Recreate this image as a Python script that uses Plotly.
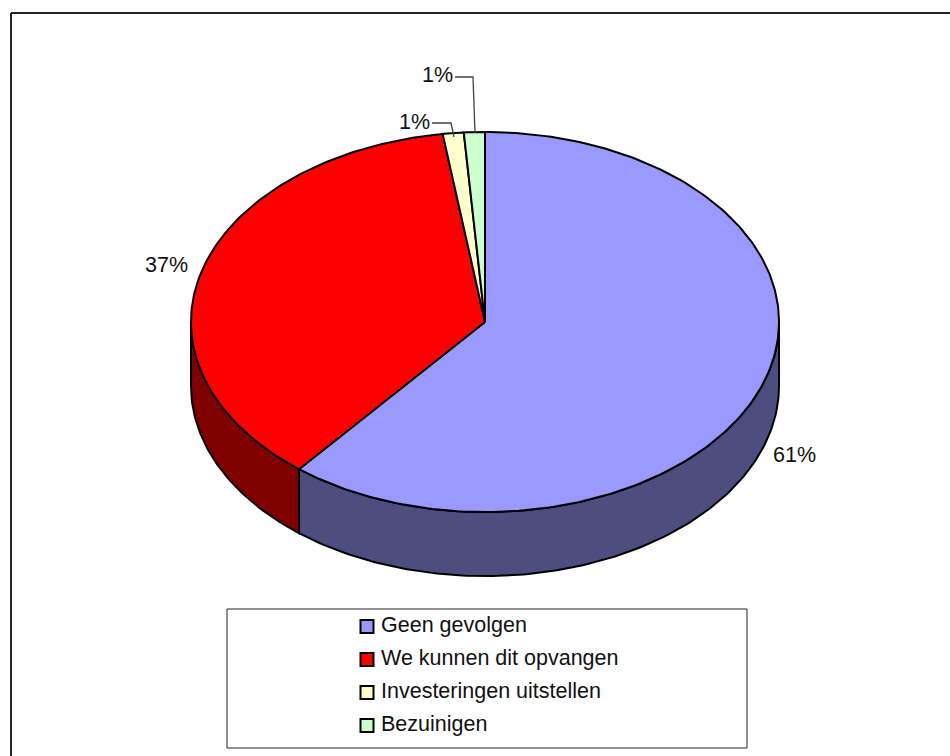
import math
import plotly.graph_objects as go

# Data
categories = ["Geen gevolgen", "We kunnen dit opvangen", "Investeringen uitstellen", "Bezuinigen"]
values = [60.9, 36.8, 1.15, 1.15]
top_colors = ["#9999FF", "#FF0000", "#FFFFCC", "#CCFFCC"]
side_colors = ["#4D4D80", "#800000", "#808066", "#668066"]

# Layout (pixels)
W, H = 950, 756
CX, CY, RX, RY, DEPTH = 485, 322, 294, 190, 64
FONT = "Liberation Sans, Arial, sans-serif"
FS = 21.5
LEG_X0, LEG_X1, LEG_Y0, LEG_Y1 = 227, 747, 609, 748
LEG_ROW0, LEG_ROW_STEP = 624.5, 33
SWATCH_X, TEXT_X = 367, 381
# label anchor positions for each slice, and optional leader paths
label_pos = [(794, 455), (166, 265), (414, 122), (437, 75)]
leaders = [None, None, [(432, 123), (451, 123), (454, 137)], [(455, 77), (473, 77), (475, 133)]]


def arc(a0, a1, dy=0.0):
    """Points on the ellipse for fractions of the turn, clockwise from the top."""
    n = max(2, int(abs(a1 - a0) * 360) + 2)
    xs, ys = [], []
    for i in range(n):
        t = 2 * math.pi * (a0 + (a1 - a0) * i / (n - 1))
        xs.append(CX + RX * math.sin(t))
        ys.append(CY - RY * math.cos(t) + dy)
    return xs, ys


total = sum(values)
bounds = [0.0]
for v in values:
    bounds.append(bounds[-1] + v / total)

fig = go.Figure()

# Side walls: only the front half (a quarter to three quarters of the turn) shows
for i, c in enumerate(categories):
    a0, a1 = max(bounds[i], 0.25), min(bounds[i + 1], 0.75)
    if a1 <= a0:
        continue
    xt, yt = arc(a0, a1)
    xb, yb = arc(a1, a0, DEPTH)
    fig.add_trace(go.Scatter(
        x=xt + xb + xt[:1], y=yt + yb + yt[:1], mode="lines", fill="toself",
        fillcolor=side_colors[i], line=dict(color="black", width=2),
        hoverinfo="skip", showlegend=False, name=c + " (zijkant)"))

# Top faces
for i, c in enumerate(categories):
    xs, ys = arc(bounds[i], bounds[i + 1])
    fig.add_trace(go.Scatter(
        x=[CX] + xs + [CX], y=[CY] + ys + [CY], mode="lines", fill="toself",
        fillcolor=top_colors[i], line=dict(color="black", width=2),
        name=c, text=f"{c}: {values[i]:.0f}%", hoverinfo="text", showlegend=False))

# Leader lines
for path in leaders:
    if path:
        fig.add_trace(go.Scatter(
            x=[p[0] for p in path], y=[p[1] for p in path], mode="lines",
            line=dict(color="#444444", width=1.3), hoverinfo="skip", showlegend=False))

# Legend keys
fig.add_trace(go.Scatter(
    x=[SWATCH_X] * len(categories),
    y=[LEG_ROW0 + LEG_ROW_STEP * i + 2 for i in range(len(categories))],
    mode="markers", hoverinfo="skip", showlegend=False,
    marker=dict(symbol="square", size=13, color=top_colors, line=dict(color="black", width=2))))

annotations = []
for i, v in enumerate(values):
    annotations.append(dict(x=label_pos[i][0], y=label_pos[i][1], text=f"{v:.0f}%", showarrow=False,
                            xanchor="center", yanchor="middle", font=dict(family=FONT, size=FS, color="#111111")))
for i, c in enumerate(categories):
    annotations.append(dict(x=TEXT_X, y=LEG_ROW0 + LEG_ROW_STEP * i, text=c, showarrow=False,
                            xanchor="left", yanchor="middle", xshift=-2, font=dict(family=FONT, size=FS, color="#111111")))

shapes = [
    dict(type="line", x0=11, x1=W, y0=13, y1=13, line=dict(color="#222222", width=2)),
    dict(type="line", x0=11, x1=11, y0=13, y1=H, line=dict(color="#222222", width=2)),
    dict(type="rect", x0=LEG_X0, x1=LEG_X1, y0=LEG_Y0, y1=LEG_Y1, line=dict(color="#222222", width=1), fillcolor="white", layer="below"),
]

fig.update_layout(
    width=W, height=H, margin=dict(l=0, r=0, t=0, b=0),
    paper_bgcolor="white", plot_bgcolor="white", showlegend=False,
    xaxis=dict(range=[0, W], visible=False, fixedrange=True),
    yaxis=dict(range=[H, 0], visible=False, fixedrange=True),
    annotations=annotations, shapes=shapes,
)

fig.write_html("out.html", post_script="document.body.style.margin='0';document.documentElement.style.overflow='hidden';",
               config={"displayModeBar": False})
